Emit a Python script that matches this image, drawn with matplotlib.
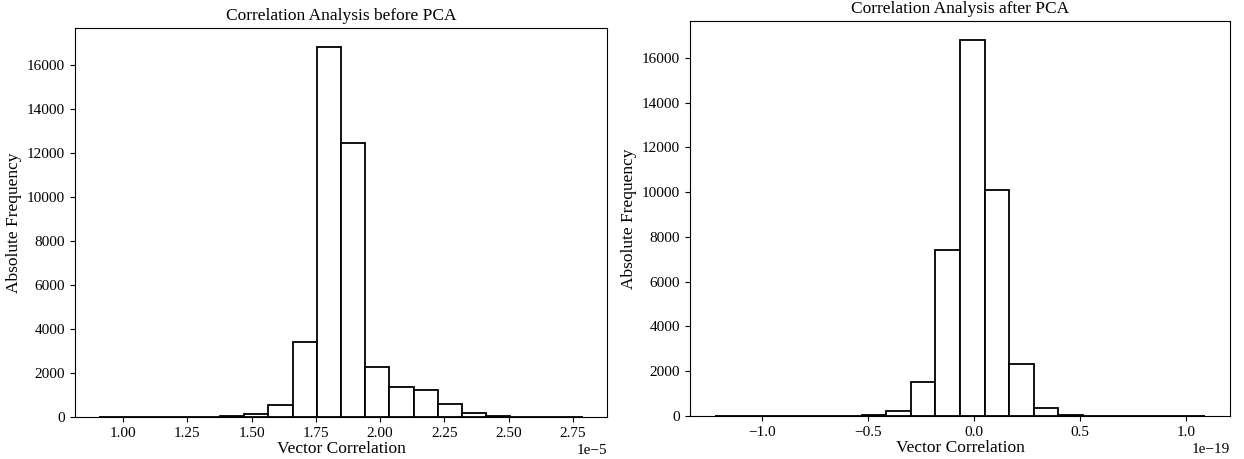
import numpy as np
import matplotlib.pyplot as plt

plt.rcParams['font.family'] = ['Liberation Serif', 'DejaVu Serif']
plt.rcParams['font.size'] = 12

# histogram counts (20 bins each)
before_lo, before_hi = 0.907e-5, 2.789e-5
before_counts = [2, 1, 1, 2, 5, 30, 130, 530, 3400, 16850,
                 12450, 2270, 1350, 1230, 610, 175, 35, 15, 6, 3]

after_lo, after_hi = -1.225e-19, 1.09e-19
after_counts = [2, 1, 2, 3, 5, 10, 50, 210, 1510, 7400,
                16800, 10080, 2320, 370, 60, 15, 6, 3, 2, 1]

fig = plt.figure(figsize=(12.44, 4.59), dpi=100)
W, H = 1244, 459
ax1 = fig.add_axes([75 / W, 1 - 417 / H, (607 - 75) / W, (417 - 28) / H])
ax2 = fig.add_axes([690 / W, 1 - 416 / H, (1230 - 690) / W, (416 - 21) / H])


def draw(ax, lo, hi, counts, title):
    edges = np.linspace(lo, hi, len(counts) + 1)
    centers = (edges[:-1] + edges[1:]) / 2
    ax.hist(centers, bins=edges, weights=counts, facecolor='white',
            edgecolor='black', linewidth=1.3)
    ax.set_title(title, fontsize=12.5)
    ax.set_xlabel('Vector Correlation', fontsize=12.5, labelpad=1)
    ax.set_ylabel('Absolute Frequency', fontsize=12.5)
    ax.tick_params(labelsize=11)
    ax.xaxis.get_offset_text().set_fontsize(11)


draw(ax1, before_lo, before_hi, before_counts, 'Correlation Analysis before PCA')
draw(ax2, after_lo, after_hi, after_counts, 'Correlation Analysis after PCA')

fig.savefig('out.png', dpi=100)
